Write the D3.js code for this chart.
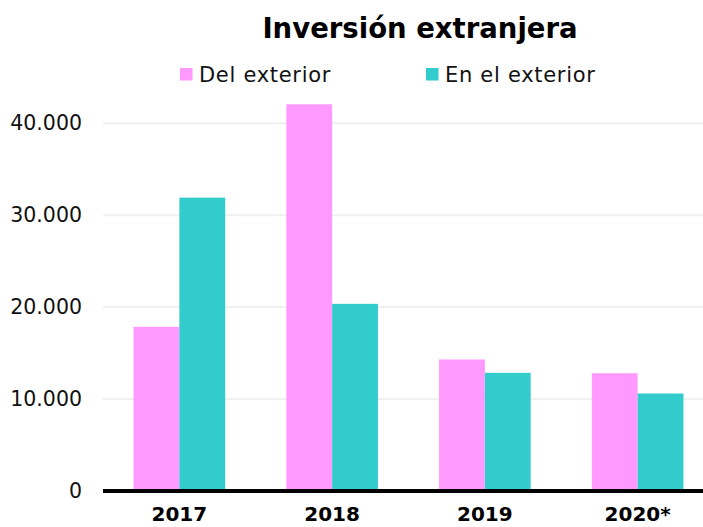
<!DOCTYPE html>
<html>
<head>
<meta charset="utf-8">
<script src="https://cdn.jsdelivr.net/npm/d3@7"></script>
<style>
  body { margin: 0; background: #fff; }
  svg { font-family: "DejaVu Sans", Verdana, sans-serif; }
</style>
</head>
<body>
<script>
const years = ["2017", "2018", "2019", "2020*"];
const seriesNames = ["Del exterior", "En el exterior"];
const delExterior = [17800, 42000, 14250, 12750];
const enExterior = [31850, 20300, 12800, 10550];
const yTicks = [0, 10000, 20000, 30000, 40000];
const colors = ["#ff99ff", "#33cccc"];

const w = 703, h = 527;
const margin = { top: 90, left: 103, bottom: 36 };

const svg = d3.select("body")
  .append("svg")
  .attr("width", w)
  .attr("height", h);

const x = d3.scaleBand()
  .domain(years)
  .range([margin.left, 714])
  .paddingInner(0.4)
  .paddingOuter(0.2);

const xInner = d3.scaleBand()
  .domain(seriesNames)
  .range([0, x.bandwidth()]);

const y = d3.scaleLinear()
  .domain([0, 40000])
  .range([490.5, 122.7]);

const fmt = (d) => d3.format(",")(d).replace(/,/g, ".");

// gridlines + labels
const yAxis = svg.append("g")
  .attr("transform", `translate(${margin.left},0)`)
  .call(d3.axisLeft(y).tickValues(yTicks).tickSize(-(w - margin.left)).tickFormat(fmt));
yAxis.select(".domain").remove();
yAxis.selectAll(".tick line")
  .attr("stroke", "#f0f0f0")
  .attr("stroke-width", 2)
  .attr("opacity", (d) => d === 0 ? 0 : 1);
yAxis.selectAll(".tick text")
  .attr("x", -21)
  .attr("font-size", 20.5)
  .attr("font-family", "DejaVu Sans")
  .attr("fill", "#111");

const rows = years.map((yr, i) => ({ year: yr, values: [delExterior[i], enExterior[i]] }));

const groups = svg.selectAll("g.grp")
  .data(rows)
  .enter()
  .append("g")
  .attr("class", "grp")
  .attr("transform", (d) => `translate(${x(d.year)},0)`);

groups.selectAll("rect")
  .data((d) => d.values.map((v, j) => ({ name: seriesNames[j], value: v, c: colors[j] })))
  .enter()
  .append("rect")
  .attr("x", (d) => xInner(d.name))
  .attr("width", xInner.bandwidth())
  .attr("y", (d) => y(d.value))
  .attr("height", (d) => y(0) - y(d.value))
  .attr("fill", (d) => d.c);

// baseline
svg.append("line")
  .attr("x1", margin.left).attr("x2", w)
  .attr("y1", y(0) + 0.5).attr("y2", y(0) + 0.5)
  .attr("stroke", "#000")
  .attr("stroke-width", 4);

// x labels
svg.selectAll("text.xlab")
  .data(years)
  .enter()
  .append("text")
  .attr("class", "xlab")
  .attr("x", (d) => x(d) + x.bandwidth() / 2)
  .attr("y", 521)
  .attr("text-anchor", "middle")
  .attr("font-size", 20)
  .attr("font-weight", "bold")
  .text((d) => d);

// title
svg.append("text")
  .attr("x", 420)
  .attr("y", 38)
  .attr("text-anchor", "middle")
  .attr("font-size", 27.5)
  .attr("font-weight", "bold")
  .text("Inversión extranjera");

// legend
const legendX = [180, 426];
const legend = svg.selectAll("g.leg")
  .data(seriesNames)
  .enter()
  .append("g")
  .attr("class", "leg")
  .attr("transform", (d, i) => `translate(${legendX[i]},68)`);
legend.append("rect")
  .attr("width", 12.5).attr("height", 12.5)
  .attr("fill", (d, i) => colors[i]);
legend.append("text")
  .attr("x", 19)
  .attr("y", 14)
  .attr("font-size", 21)
  .attr("letter-spacing", 0.7)
  .attr("fill", "#111")
  .text((d) => d);
</script>
</body>
</html>
